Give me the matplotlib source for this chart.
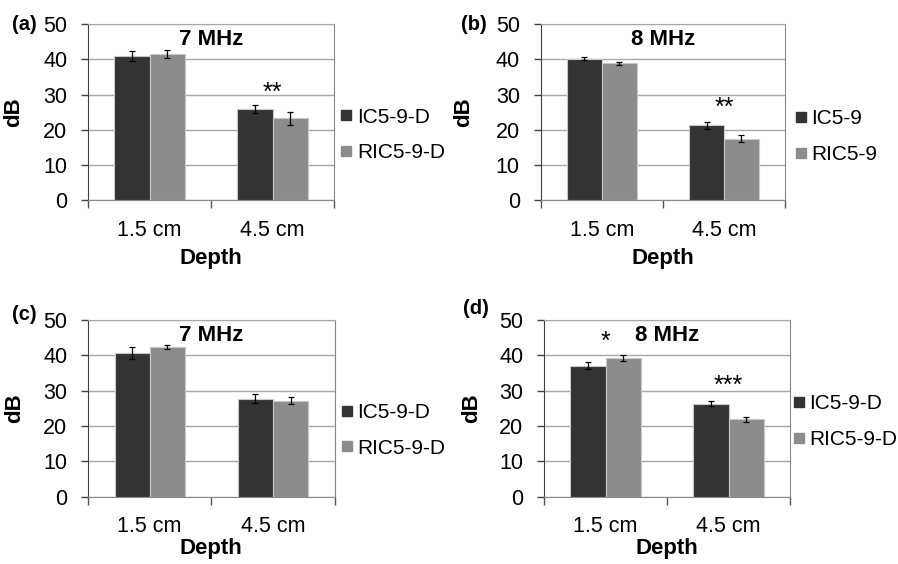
import numpy as np
import matplotlib
matplotlib.use('Agg')
import matplotlib.pyplot as plt
from matplotlib.lines import Line2D

plt.rcParams['font.family'] = ['Liberation Sans', 'DejaVu Sans']

# data
depths = ['1.5 cm', '4.5 cm']
panel_tags = ['(a)', '(b)', '(c)', '(d)']
freqs = ['7 MHz', '8 MHz', '7 MHz', '8 MHz']
series_a = [['IC5-9-D', 'RIC5-9-D'], ['IC5-9', 'RIC5-9'], ['IC5-9-D', 'RIC5-9-D'], ['IC5-9-D', 'RIC5-9-D']]

dark_vals = [[40.9, 25.9], [40.2, 21.3], [40.6, 27.7], [37.1, 26.3]]
dark_err = [[1.4, 1.2], [0.5, 1.0], [1.65, 1.3], [0.9, 0.65]]
light_vals = [[41.5, 23.2], [38.8, 17.5], [42.3, 27.2], [39.3, 21.9]]
light_err = [[1.1, 1.8], [0.5, 1.0], [0.5, 1.0], [0.9, 0.75]]

# significance marks: (panel, category, baseline value, text)
stars = [(0, 1, 28.4, '**'), (1, 1, 24.3, '**'), (3, 0, 41.7, '*'), (3, 1, 29.5, '***')]

# axes boxes in pixels: left, right, top, bottom
W, H = 898, 564
boxes = [(88, 334, 24, 200.3), (540.7, 785, 24, 200.3),
         (88, 334.7, 320, 496.7), (544, 790, 320, 496.7)]
legend_y = [0.37, 0.36, 0.375, 0.425]
legend_x = [1.025, 1.04, 1.025, 1.012]
ylab_x = [-0.26, -0.273, -0.256, -0.252]
xlab_y = [-0.27, -0.27, -0.235, -0.235]
tag_pos = [(24, 25), (474, 25), (24, 315), (476, 309)]

dark = '#333333'
light = '#8c8c8c'
grid_c = '#a8a8a8'

fig = plt.figure(figsize=(W / 100, H / 100), dpi=100)
x = np.arange(len(depths))
bw = 0.285

for i in range(4):
    l, r, t, b = boxes[i]
    ax = fig.add_axes([l / W, 1 - b / H, (r - l) / W, (b - t) / H])
    ax.bar(x - bw / 2, dark_vals[i], bw, color=dark, edgecolor='#c8c8c8', linewidth=0.8,
           yerr=dark_err[i], error_kw=dict(ecolor='black', elinewidth=0.9, capsize=2.5, capthick=0.9), zorder=3)
    ax.bar(x + bw / 2, light_vals[i], bw, color=light, edgecolor='#c8c8c8', linewidth=0.8,
           yerr=light_err[i], error_kw=dict(ecolor='black', elinewidth=0.9, capsize=2.5, capthick=0.9), zorder=3)

    ax.set_xlim(-0.5, 1.5)
    ax.set_ylim(0, 50)
    ax.set_yticks(range(0, 51, 10))
    ax.yaxis.grid(True, color=grid_c, linewidth=1.0, zorder=0)
    ax.set_axisbelow(True)
    ax.tick_params(axis='y', labelsize=15.5, length=5, width=1, color='#404040', pad=10)
    ax.set_xticks(x)
    ax.set_xticklabels(depths)
    ax.set_xticks([-0.5, 0.5, 1.5], minor=True)
    ax.tick_params(axis='x', which='major', length=0, labelsize=15.5, pad=14)
    ax.tick_params(axis='x', which='minor', length=6, width=1, color='#555555')
    ax.spines['left'].set_color('#404040')
    ax.spines['bottom'].set_color('#888888')
    ax.spines['right'].set_color('#888888')
    ax.spines['top'].set_color(grid_c)

    ax.set_ylabel('dB', fontsize=16, fontweight='bold')
    ax.yaxis.set_label_coords(ylab_x[i], 0.5)
    ax.set_xlabel('Depth', fontsize=16, fontweight='bold')
    ax.xaxis.set_label_coords(0.5, xlab_y[i])

    ax.text(0.5, 0.91, freqs[i], transform=ax.transAxes, ha='center', va='center',
            fontsize=16, fontweight='bold')

    handles = [Line2D([], [], marker='s', linestyle='none', markersize=7, color=dark),
               Line2D([], [], marker='s', linestyle='none', markersize=7, color=light)]
    ax.legend(handles, series_a[i], loc='center left', bbox_to_anchor=(legend_x[i], legend_y[i]),
              frameon=False, fontsize=15, handlelength=0.6, handletextpad=0.2,
              borderaxespad=0, borderpad=0, labelspacing=0.8)

    for p, c, yv, s in stars:
        if p == i:
            ax.text(c, yv, s, ha='center', va='baseline', fontsize=18)

    fig.text(tag_pos[i][0] / W, 1 - tag_pos[i][1] / H, panel_tags[i], ha='center', va='center',
             fontsize=14.5, fontweight='bold')

fig.savefig('out.png', dpi=100)
